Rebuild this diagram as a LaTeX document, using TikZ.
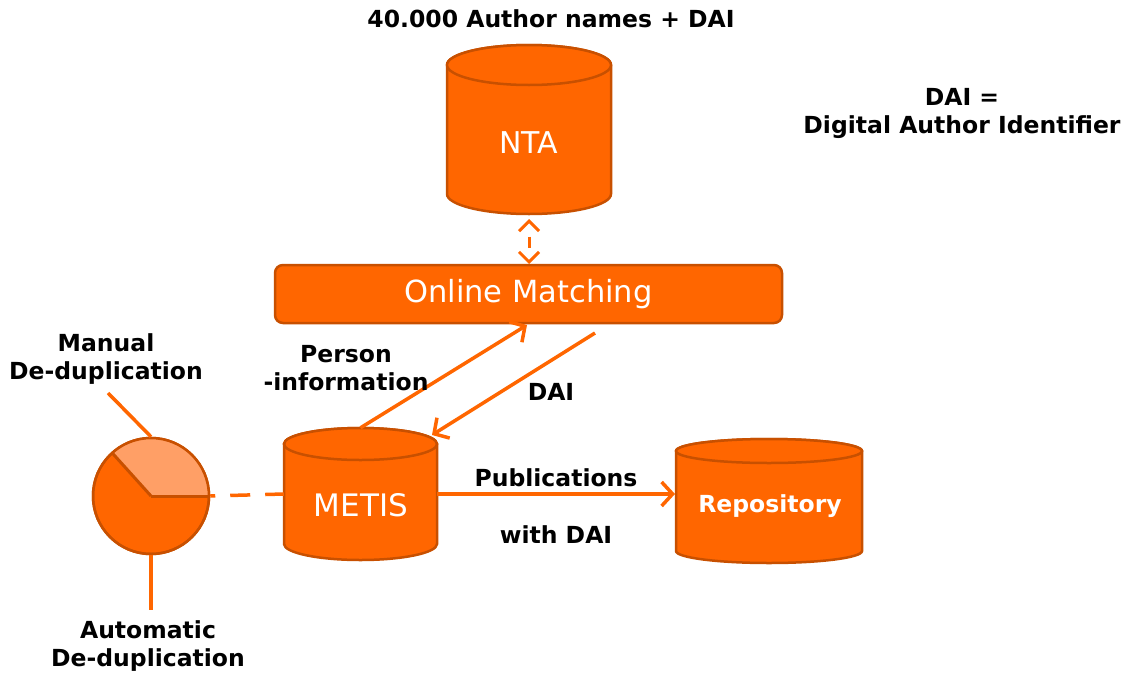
\documentclass[tikz,border=0pt]{standalone}
\usepackage{fontspec}
\setmainfont{DejaVu Sans}
\usetikzlibrary{arrows.meta,calc}
\definecolor{org}{HTML}{FF6600}
\definecolor{bord}{HTML}{C85000}
\definecolor{lightorg}{HTML}{FF9F66}
\tikzset{
  cylstyle/.style={draw=bord, fill=org, line width=2.5pt},
  conn/.style={draw=org, line width=3.5pt},
  barb/.style={-{Straight Barb[length=11pt,width=24pt]}},
  lbl/.style={font=\bfseries\fontsize{23.5}{28}\selectfont, align=center, inner sep=0pt},
  wlbl/.style={text=white, inner sep=0pt},
}
\newcommand{\mycyl}[5]{%
  \draw[cylstyle] (#1-#2,#3) -- (#1-#2,#4) arc[start angle=180,end angle=0,x radius=#2,y radius=#5] -- (#1+#2,#3) arc[start angle=0,end angle=-180,x radius=#2,y radius=#5] -- cycle;
  \draw[cylstyle] (#1,#3) ellipse[x radius=#2,y radius=#5];}
\begin{document}
\begin{tikzpicture}[x=1pt,y=-1pt]
\useasboundingbox (0,0) rectangle (1130,675);
% cylinders
\mycyl{529}{82}{65}{194}{20}
\mycyl{360.5}{76.5}{444}{544}{16}
\mycyl{769}{93}{451}{551}{12}
\node[wlbl, font=\fontsize{30}{32}\selectfont] (nta) at (529,143) {NTA};
\node[wlbl, font=\fontsize{31}{32}\selectfont] (metistext) at (361,505) {METIS};
\node[wlbl, font=\bfseries\fontsize{23.5}{26}\selectfont] (repotext) at (770,506) {Repository};
\node[minimum width=164, minimum height=170, inner sep=0] (ntab) at (529,130) {};
\node[minimum width=153, minimum height=132, inner sep=0] (metis) at (360.5,494) {};
\node[minimum width=186, minimum height=126, inner sep=0] (repo) at (769,500) {};
% online matching
\node[draw=bord, fill=org, line width=2.5pt, rounded corners=8pt, minimum width=507, minimum height=58, text=white, font=\fontsize{30.5}{32}\selectfont] (om) at (528.5,294) {Online Matching};
% pie
\node[circle, draw=bord, fill=org, line width=2.5pt, minimum size=116, inner sep=0] (pie) at (151,496) {};
\fill[lightorg] (pie.center) -- +(0:57) arc[start angle=0,end angle=-132,radius=57] -- cycle;
\draw[bord, line width=2.5pt] (pie.center) circle[radius=58];
\draw[bord, line width=3pt] (pie.center) -- +(0:58);
\draw[bord, line width=3pt] (pie.center) -- +(-132:58);
% coordinates
\coordinate (mtop) at (108,393);
\coordinate (abot) at (151,610);
\coordinate (omin) at (527,325);
\coordinate (omout) at (595,333);
\coordinate (metisin) at (432,435);
\coordinate (ntabot) at (529,219);
\coordinate (omtop) at (529,264);
\coordinate (repoin) at (675,494);
% connectors
\draw[conn] (mtop) -- (pie.north);
\draw[conn] (pie.south) -- (abot);
\draw[conn, dash pattern=on 20pt off 15pt, dash phase=15pt] (pie.east) -- (metis.west);
\draw[conn, barb] (metis.north) -- (omin);
\draw[conn, barb] (omout) -- (metisin);
\draw[conn, barb] (metis.east) -- (repoin);
\draw[conn, line width=3pt, {Straight Barb[length=10pt,width=20pt]}-{Straight Barb[length=10pt,width=20pt]}, dash pattern=on 0pt off 14pt on 11pt off 60pt] (ntabot) -- (omtop);
% labels
\node[lbl] (title) at (551,19) {40.000 Author names + DAI};
\node[lbl] (legend) at (962,113) {DAI =\\Digital Author Identifier};
\node[lbl] (manual) at (106,359) {Manual\\De-duplication};
\node[lbl] (auto) at (148,646) {Automatic\\De-duplication};
\node[lbl] (person) at (346,368) {Person\\-information};
\node[lbl] (dai) at (551,392) {DAI};
\node[lbl] (pub) at (556,478) {Publications};
\node[lbl] (withdai) at (556,535) {with DAI};
\end{tikzpicture}
\end{document}
